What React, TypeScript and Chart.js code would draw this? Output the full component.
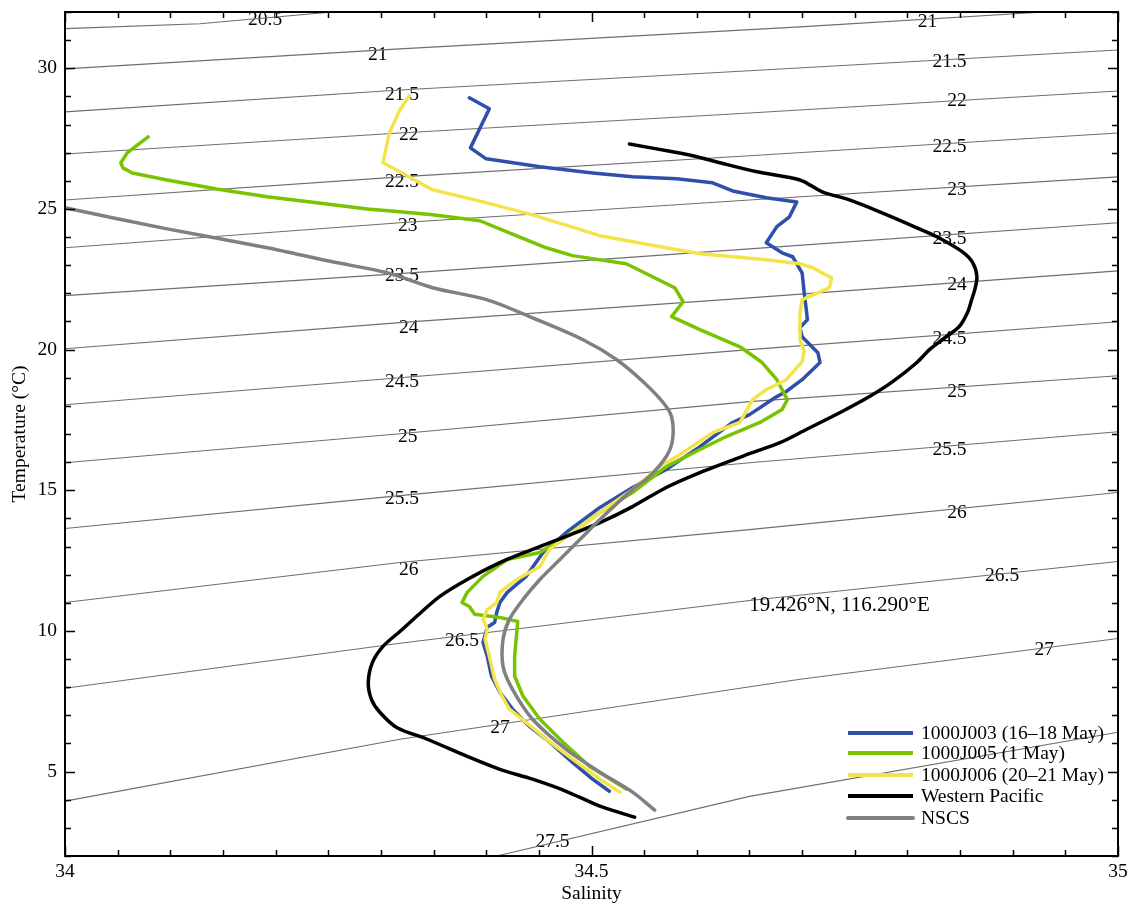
import React, { useEffect, useRef } from "react";
import { Chart, registerables } from "chart.js";

Chart.register(...registerables);

const FONT_FAMILY = '"Liberation Serif", "Times New Roman", Times, serif';
const FONT_SIZE = 19.5;

// ---- axes ----
const xMin = 34;
const xMax = 35;
const xStep = 0.05;
const xLabelValues = [34, 34.5, 35];
const xLabelTexts = ["34", "34.5", "35"];
const yMin = 2;
const yMax = 32;
const yStep = 1;
const yLabelValues = [5, 10, 15, 20, 25, 30];
const yLabelTexts = ["5", "10", "15", "20", "25", "30"];

// ---- 1000J003 (16–18 May) ----
const j003Sal = [34.384, 34.403, 34.385, 34.400, 34.451, 34.501, 34.539, 34.581, 34.615, 34.634, 34.666, 34.695, 34.688, 34.676, 34.666, 34.681, 34.691, 34.700, 34.702, 34.704, 34.705, 34.698, 34.700, 34.715, 34.717, 34.700, 34.685, 34.676, 34.650, 34.634, 34.603, 34.571, 34.539, 34.508, 34.476, 34.454, 34.438, 34.420, 34.413, 34.410, 34.408, 34.401, 34.397, 34.401, 34.405, 34.413, 34.425, 34.441, 34.457, 34.482, 34.501, 34.517];
const j003Temp = [28.95, 28.56, 27.17, 26.78, 26.50, 26.28, 26.14, 26.07, 25.93, 25.64, 25.40, 25.25, 24.72, 24.37, 23.80, 23.44, 23.30, 22.73, 22.02, 21.42, 21.06, 20.78, 20.46, 19.89, 19.54, 18.93, 18.51, 18.33, 17.69, 17.41, 16.55, 15.74, 15.10, 14.39, 13.50, 12.79, 11.94, 11.37, 11.01, 10.66, 10.30, 10.13, 9.59, 9.10, 8.39, 7.82, 7.22, 6.61, 6.15, 5.33, 4.73, 4.30];

// ---- 1000J005 (1 May) ----
const j005Sal = [34.079, 34.059, 34.053, 34.055, 34.064, 34.097, 34.144, 34.192, 34.239, 34.287, 34.318, 34.349, 34.394, 34.422, 34.457, 34.482, 34.533, 34.558, 34.579, 34.587, 34.576, 34.603, 34.641, 34.662, 34.676, 34.686, 34.681, 34.660, 34.628, 34.603, 34.571, 34.555, 34.539, 34.508, 34.482, 34.451, 34.420, 34.397, 34.382, 34.377, 34.384, 34.389, 34.413, 34.430, 34.429, 34.427, 34.427, 34.435, 34.451, 34.473, 34.498, 34.533];
const j005Temp = [27.56, 26.99, 26.64, 26.46, 26.28, 26.03, 25.71, 25.43, 25.22, 25.00, 24.90, 24.79, 24.58, 24.15, 23.62, 23.34, 23.05, 22.59, 22.20, 21.70, 21.17, 20.71, 20.10, 19.54, 18.93, 18.22, 17.87, 17.41, 16.91, 16.45, 15.84, 15.38, 14.92, 14.21, 13.50, 12.79, 12.54, 11.94, 11.37, 11.01, 10.87, 10.59, 10.48, 10.34, 9.94, 9.10, 8.39, 7.68, 6.86, 6.04, 5.19, 4.38];

// ---- 1000J006 (20–21 May) ----
const j006Sal = [34.327, 34.318, 34.308, 34.302, 34.318, 34.349, 34.397, 34.444, 34.508, 34.571, 34.603, 34.666, 34.698, 34.710, 34.728, 34.726, 34.704, 34.700, 34.698, 34.698, 34.702, 34.700, 34.685, 34.666, 34.653, 34.641, 34.615, 34.587, 34.565, 34.539, 34.508, 34.482, 34.460, 34.451, 34.429, 34.413, 34.410, 34.401, 34.397, 34.401, 34.399, 34.403, 34.408, 34.415, 34.422, 34.438, 34.457, 34.482, 34.508, 34.527];
const j006Temp = [29.02, 28.52, 27.70, 26.64, 26.32, 25.68, 25.25, 24.79, 24.05, 23.62, 23.41, 23.19, 23.05, 22.91, 22.55, 22.20, 21.84, 21.77, 21.31, 20.35, 19.93, 19.57, 18.93, 18.58, 18.22, 17.41, 17.05, 16.34, 15.84, 15.03, 14.21, 13.50, 12.90, 12.29, 11.83, 11.37, 11.01, 10.76, 10.41, 10.06, 9.70, 9.10, 8.28, 7.68, 7.22, 6.75, 6.15, 5.44, 4.73, 4.27];

// ---- Western Pacific ----
const wpSal = [34.536, 34.577, 34.596, 34.619, 34.657, 34.698, 34.719, 34.745, 34.776, 34.809, 34.828, 34.852, 34.862, 34.866, 34.864, 34.861, 34.857, 34.849, 34.833, 34.821, 34.809, 34.786, 34.764, 34.738, 34.704, 34.679, 34.650, 34.603, 34.571, 34.539, 34.508, 34.476, 34.444, 34.413, 34.382, 34.356, 34.337, 34.318, 34.302, 34.292, 34.288, 34.291, 34.299, 34.315, 34.344, 34.382, 34.413, 34.444, 34.476, 34.508, 34.541];
const wpTemp = [27.31, 27.03, 26.89, 26.67, 26.32, 26.03, 25.61, 25.32, 24.86, 24.33, 24.01, 23.48, 23.09, 22.59, 22.13, 21.77, 21.31, 20.81, 20.35, 20.00, 19.54, 18.86, 18.33, 17.80, 17.16, 16.69, 16.30, 15.63, 15.10, 14.42, 13.85, 13.36, 12.90, 12.43, 11.83, 11.23, 10.62, 9.98, 9.45, 8.88, 8.17, 7.57, 7.11, 6.57, 6.15, 5.54, 5.08, 4.73, 4.30, 3.77, 3.38];

// ---- NSCS ----
const nscsSal = [34.000, 34.097, 34.192, 34.254, 34.306, 34.349, 34.401, 34.444, 34.492, 34.524, 34.549, 34.568, 34.576, 34.577, 34.571, 34.555, 34.539, 34.508, 34.489, 34.470, 34.451, 34.435, 34.422, 34.416, 34.416, 34.425, 34.444, 34.476, 34.508, 34.539, 34.560];
const nscsTemp = [25.04, 24.29, 23.62, 23.12, 22.73, 22.20, 21.77, 21.13, 20.35, 19.64, 18.86, 18.12, 17.62, 16.80, 16.20, 15.49, 15.03, 13.96, 13.25, 12.54, 11.83, 11.12, 10.41, 9.70, 8.74, 7.92, 6.86, 5.79, 4.98, 4.27, 3.63];

// ---- isopycnals (sigma-theta) ----
const isoLevels = ["20.5", "21", "21.5", "22", "22.5", "23", "23.5", "24", "24.5", "25", "25.5", "26", "26.5", "27", "27.5"];
const isoSal = [
  [34.0, 34.128, 34.254],
  [34.0, 34.318, 34.698, 34.93],
  [34.0, 34.318, 34.65, 35.0],
  [34.0, 34.318, 34.65, 35.0],
  [34.0, 34.318, 34.65, 35.0],
  [34.0, 34.318, 34.65, 35.0],
  [34.0, 34.318, 34.65, 35.0],
  [34.0, 34.318, 34.65, 35.0],
  [34.0, 34.318, 34.65, 35.0],
  [34.0, 34.318, 34.65, 35.0],
  [34.0, 34.318, 34.65, 35.0],
  [34.0, 34.318, 34.65, 35.0],
  [34.0, 34.318, 34.65, 35.0],
  [34.0, 34.318, 34.698, 35.0],
  [34.41, 34.65, 35.0],
];
const isoTemp = [
  [31.41, 31.58, 32.0],
  [29.98, 30.69, 31.47, 32.0],
  [28.45, 29.23, 29.91, 30.65],
  [26.95, 27.7, 28.41, 29.19],
  [25.32, 26.14, 26.89, 27.7],
  [23.62, 24.51, 25.32, 26.14],
  [21.92, 22.7, 23.58, 24.51],
  [20.03, 20.96, 21.84, 22.8],
  [18.04, 19.0, 20.0, 20.99],
  [15.98, 17.01, 18.15, 19.07],
  [13.64, 14.81, 15.98, 17.08],
  [11.01, 12.43, 13.6, 14.92],
  [7.96, 9.56, 11.08, 12.47],
  [3.95, 6.15, 8.28, 9.73],
  [2.0, 4.12, 6.4],
];
const isoLabelText = ["20.5", "21", "21", "21.5", "21.5", "22", "22", "22.5", "22.5", "23", "23", "23.5", "23.5", "24", "24", "24.5", "24.5", "25", "25", "25.5", "25.5", "26", "26", "26.5", "26.5", "27", "27", "27.5"];
const isoLabelSal = [34.19, 34.297, 34.819, 34.32, 34.84, 34.3265, 34.847, 34.32, 34.84, 34.3255, 34.847, 34.32, 34.84, 34.3265, 34.847, 34.32, 34.84, 34.3255, 34.847, 34.32, 34.84, 34.3265, 34.847, 34.377, 34.89, 34.413, 34.93, 34.463];
const isoLabelTemp = [31.72, 30.47, 31.64, 29.05, 30.22, 27.63, 28.84, 25.96, 27.21, 24.4, 25.68, 22.62, 23.94, 20.78, 22.31, 18.86, 20.39, 16.91, 18.51, 14.71, 16.45, 12.18, 14.21, 9.63, 11.94, 6.54, 9.31, 2.49];

// ---- station annotation ----
const stationText = "19.426°N, 116.290°E";
const stationSal = 34.7355;
const stationTemp = 10.9;

// ---- series meta ----
const seriesNames = ["1000J003 (16–18 May)", "1000J005 (1 May)", "1000J006 (20–21 May)", "Western Pacific", "NSCS"];
const seriesColors = ["#2f4fab", "#79c300", "#f4e44c", "#000000", "#808080"];
const seriesSal = [j003Sal, j005Sal, j006Sal, wpSal, nscsSal];
const seriesTemp = [j003Temp, j005Temp, j006Temp, wpTemp, nscsTemp];
const seriesOrder = [4, 3, 2, 1, 0];
const seriesTension = [0, 0, 0, 0.3, 0.3];

function zip(sal: number[], temp: number[]) {
  return sal.map((s, i) => ({ x: s, y: temp[i] }));
}

function near(v: number, arr: number[]) {
  return arr.findIndex((a) => Math.abs(a - v) < 1e-6);
}

const decorPlugin = {
  id: "decor",
  beforeDatasetsDraw(chart: any) {
    const { ctx, scales } = chart;
    const x = scales.x;
    const y = scales.y;
    ctx.save();
    ctx.font = `${FONT_SIZE}px ${FONT_FAMILY}`;
    ctx.fillStyle = "#000";
    ctx.textAlign = "center";
    ctx.textBaseline = "middle";
    isoLabelText.forEach((t, i) => {
      ctx.fillText(t, x.getPixelForValue(isoLabelSal[i]), y.getPixelForValue(isoLabelTemp[i]));
    });
    ctx.restore();
  },
  afterDatasetsDraw(chart: any) {
    const { ctx, scales, chartArea } = chart;
    const x = scales.x;
    const y = scales.y;
    const { left, right, top, bottom } = chartArea;
    ctx.save();
    // station annotation
    ctx.font = `21px ${FONT_FAMILY}`;
    ctx.fillStyle = "#000";
    ctx.textAlign = "center";
    ctx.textBaseline = "middle";
    ctx.fillText(stationText, x.getPixelForValue(stationSal), y.getPixelForValue(stationTemp));

    // frame
    ctx.strokeStyle = "#000";
    ctx.lineWidth = 2;
    ctx.strokeRect(left, top, right - left, bottom - top);

    // inward ticks
    ctx.lineWidth = 1.5;
    ctx.beginPath();
    x.ticks.forEach((t: any) => {
      const px = Math.round(x.getPixelForValue(t.value)) + 0.5;
      const len = near(t.value, xLabelValues) >= 0 ? 10 : 6;
      ctx.moveTo(px, bottom);
      ctx.lineTo(px, bottom - len);
      ctx.moveTo(px, top);
      ctx.lineTo(px, top + len);
    });
    y.ticks.forEach((t: any) => {
      const py = Math.round(y.getPixelForValue(t.value)) + 0.5;
      const len = near(t.value, yLabelValues) >= 0 ? 10 : 6;
      ctx.moveTo(left, py);
      ctx.lineTo(left + len, py);
      ctx.moveTo(right, py);
      ctx.lineTo(right - len, py);
    });
    ctx.stroke();

    // legend
    const lx0 = right - 270;
    const lx1 = right - 205;
    const tx = right - 197;
    const rows = [bottom - 123, bottom - 103, bottom - 81, bottom - 60, bottom - 38];
    ctx.font = `${FONT_SIZE}px ${FONT_FAMILY}`;
    ctx.textAlign = "left";
    seriesNames.forEach((name, i) => {
      ctx.beginPath();
      ctx.strokeStyle = seriesColors[i];
      ctx.lineWidth = 4;
      ctx.lineCap = i === 4 ? "round" : "butt";
      ctx.moveTo(lx0, rows[i]);
      ctx.lineTo(lx1, rows[i]);
      ctx.stroke();
      ctx.fillStyle = "#000";
      ctx.fillText(name, tx, rows[i] + 1);
    });
    ctx.restore();
  },
};

export default function App() {
  const canvasRef = useRef<HTMLCanvasElement | null>(null);

  useEffect(() => {
    if (!canvasRef.current) return;
    const isoDatasets = isoLevels.map((lvl, i) => ({
      label: "σθ " + lvl,
      data: zip(isoSal[i], isoTemp[i]),
      showLine: true,
      borderColor: "#6e6e6e",
      borderWidth: 1.1,
      pointRadius: 0,
      fill: false,
      order: 10,
    }));
    const seriesDatasets = seriesNames.map((name, i) => ({
      label: name,
      data: zip(seriesSal[i], seriesTemp[i]),
      showLine: true,
      borderColor: seriesColors[i],
      backgroundColor: seriesColors[i],
      borderWidth: 3.5,
      borderJoinStyle: "round" as const,
      borderCapStyle: "round" as const,
      tension: seriesTension[i],
      pointRadius: 0,
      fill: false,
      order: seriesOrder[i],
    }));

    const chart = new Chart(canvasRef.current, {
      type: "scatter",
      data: { datasets: [...seriesDatasets, ...isoDatasets] as any },
      options: {
        responsive: false,
        animation: false,
        events: [],
        layout: { padding: { left: 0, top: 12, right: 13, bottom: 0 } },
        plugins: {
          legend: { display: false },
          tooltip: { enabled: false },
        },
        scales: {
          x: {
            type: "linear",
            min: xMin,
            max: xMax,
            grid: { display: false, drawTicks: false },
            border: { display: false },
            ticks: {
              stepSize: xStep,
              autoSkip: false,
              maxRotation: 0,
              padding: 4,
              color: "#000",
              font: { family: FONT_FAMILY, size: FONT_SIZE },
              callback: (v: any) => {
                const k = near(Number(v), xLabelValues);
                return k >= 0 ? xLabelTexts[k] : "";
              },
            },
            title: {
              display: true,
              text: "Salinity",
              color: "#000",
              font: { family: FONT_FAMILY, size: FONT_SIZE },
              padding: { top: 0, bottom: 0 },
            },
            afterFit: (scale: any) => {
              scale.height = 50;
              scale.paddingLeft = 0;
              scale.paddingRight = 0;
            },
          },
          y: {
            type: "linear",
            min: yMin,
            max: yMax,
            grid: { display: false, drawTicks: false },
            border: { display: false },
            ticks: {
              stepSize: yStep,
              autoSkip: false,
              padding: 8,
              color: "#000",
              font: { family: FONT_FAMILY, size: FONT_SIZE },
              callback: (v: any) => {
                const k = near(Number(v), yLabelValues);
                return k >= 0 ? yLabelTexts[k] : "";
              },
            },
            title: {
              display: true,
              text: "Temperature (°C)",
              color: "#000",
              font: { family: FONT_FAMILY, size: FONT_SIZE },
              padding: { top: 8, bottom: 0 },
            },
            afterFit: (scale: any) => {
              scale.width = 65;
              scale.paddingTop = 0;
              scale.paddingBottom = 0;
            },
          },
        },
      },
      plugins: [decorPlugin],
    });
    return () => chart.destroy();
  }, []);

  return (
    <div style={{ position: "fixed", left: 0, top: 0, width: 1131, height: 906, background: "#fff" }}>
      <canvas ref={canvasRef} width={1131} height={906} style={{ display: "block" }} />
    </div>
  );
}
